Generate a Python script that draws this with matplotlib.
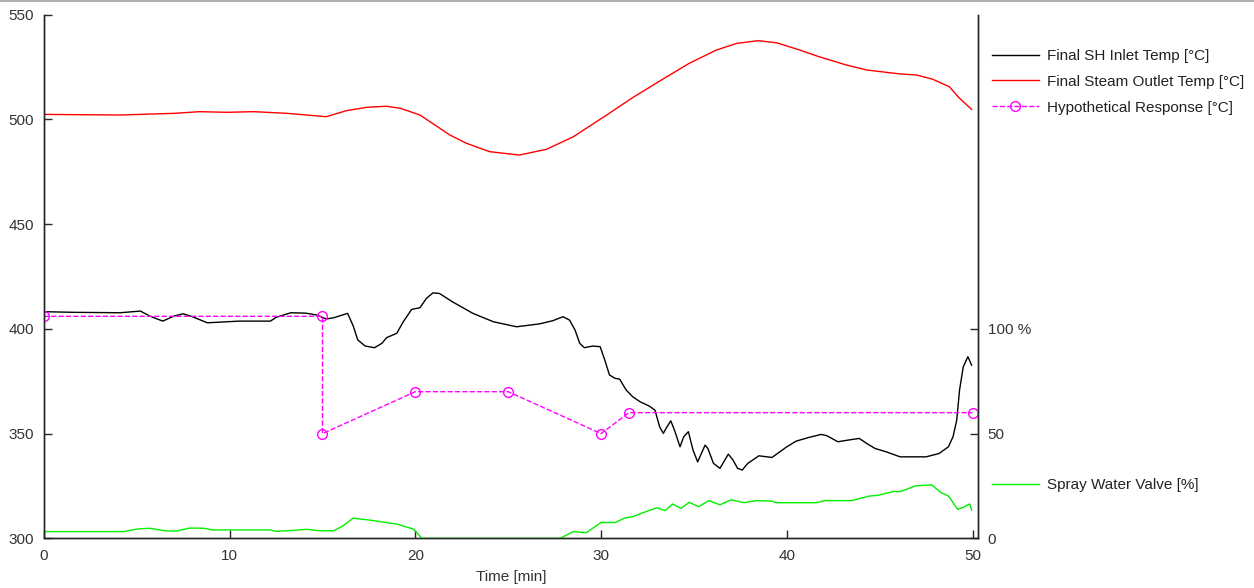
import matplotlib
matplotlib.use("Agg")
import matplotlib.pyplot as plt
from matplotlib.lines import Line2D

plt.rcParams['font.family'] = ['Liberation Sans', 'DejaVu Sans']
plt.rcParams['font.size'] = 11

# Final SH inlet temperature [degC]
inlet_time = [0.0, 1.6, 4.1, 5.2, 5.7, 6.4, 7.0, 7.5, 8.0, 8.8, 10.5, 12.2, 12.5, 13.3,
              14.1, 14.7, 15.2, 15.6, 16.35, 16.65, 16.9, 17.3, 17.8, 18.2, 18.45, 19.0,
              19.35, 19.8, 20.25, 20.6, 20.95, 21.3, 22.0, 23.1, 24.2, 25.45, 26.7, 27.4,
              27.95, 28.3, 28.6, 28.85, 29.1, 29.55, 29.95, 30.2, 30.45, 30.75, 31.0, 31.35,
              31.7, 32.1, 32.6, 32.9, 33.15, 33.35, 33.5, 33.75, 33.95, 34.25, 34.45, 34.7,
              34.95, 35.2, 35.6, 35.75, 36.05, 36.4, 36.85, 37.1, 37.35, 37.6, 37.9, 38.5,
              39.2, 40.0, 40.5, 41.2, 41.85, 42.15, 42.75, 43.3, 43.9, 44.3, 44.75, 45.35,
              46.1, 47.5, 48.2, 48.7, 48.95, 49.15, 49.3, 49.5, 49.75, 49.95]
inlet_temp = [408.2, 407.9, 407.7, 408.5, 406.1, 403.7, 406.1, 407.2, 405.8, 402.9, 403.7,
              403.7, 405.5, 407.7, 407.5, 406.6, 404.7, 405.3, 407.4, 401.5, 394.7, 391.8,
              391.0, 393.1, 395.8, 397.9, 403.4, 409.3, 410.1, 414.6, 417.2, 416.9, 412.9,
              407.4, 403.4, 401.0, 402.4, 403.9, 405.8, 404.2, 399.4, 393.1, 391.0, 391.8,
              391.5, 385.1, 378.0, 376.4, 376.0, 370.8, 367.6, 365.2, 363.1, 361.2, 353.3,
              350.1, 352.5, 356.1, 351.7, 343.7, 348.5, 350.9, 342.1, 336.5, 344.5, 342.9,
              335.8, 333.4, 340.2, 337.4, 333.4, 332.6, 335.8, 339.4, 338.6, 343.7, 346.4,
              348.2, 349.6, 349.0, 346.1, 346.9, 347.7, 345.3, 342.9, 341.3, 338.9, 338.9,
              340.5, 343.7, 348.5, 356.5, 370.8, 381.9, 386.7, 382.7]

# Final steam outlet temperature [degC]
outlet_time = [0.0, 4.1, 7.0, 8.4, 9.85, 11.3, 13.1, 15.2, 16.3, 17.4, 18.45, 19.2, 20.25,
               21.85, 22.75, 24.0, 25.6, 27.05, 28.5, 30.3, 31.7, 33.15, 34.75, 36.2, 37.3,
               38.45, 39.45, 40.7, 41.75, 43.2, 44.3, 46.1, 47.0, 47.85, 48.75, 49.3, 49.95]
outlet_temp = [502.4, 502.1, 502.9, 503.7, 503.4, 503.7, 502.9, 501.3, 504.2, 505.8, 506.3,
               505.3, 502.1, 492.6, 488.6, 484.6, 483.0, 485.7, 491.7, 502.1, 510.4, 518.3,
               526.8, 533.1, 536.3, 537.6, 536.6, 533.1, 529.9, 526.0, 523.6, 521.7, 521.2,
               519.2, 515.6, 510.1, 504.8]

# Hypothetical response [degC]
hypo_time = [0, 15, 15, 20, 25, 30, 31.5, 50]
hypo_temp = [406, 406, 350, 370, 370, 350, 360, 360]

# Spray water valve [%]
valve_time = [0.0, 4.3, 5.0, 5.7, 6.6, 7.15, 7.85, 8.6, 9.1, 12.2, 12.5, 13.4, 14.15, 14.85,
              15.6, 16.1, 16.65, 17.55, 18.45, 19.0, 19.9, 20.35, 24.9, 27.8, 28.5, 29.2,
              29.55, 30.0, 30.75, 31.3, 31.7, 32.25, 33.0, 33.45, 33.85, 34.3, 34.75, 35.25,
              35.8, 36.4, 37.0, 37.7, 38.35, 39.15, 39.45, 41.6, 42.05, 43.5, 44.45, 44.9,
              45.7, 46.15, 46.95, 47.8, 48.3, 48.7, 49.2, 49.5, 49.85, 49.95]
valve_pct = [3.2, 3.2, 4.4, 4.8, 3.5, 3.5, 4.9, 4.8, 4.0, 4.0, 3.3, 3.8, 4.3, 3.6, 3.6, 5.9,
             9.6, 8.7, 7.5, 6.8, 4.4, 0.0, 0.0, 0.0, 3.2, 2.7, 4.8, 7.6, 7.5, 9.8, 10.3,
             12.2, 14.6, 13.2, 16.4, 14.3, 17.2, 15.1, 18.0, 16.0, 18.4, 17.0, 18.0, 17.8,
             17.0, 17.0, 18.0, 18.0, 20.2, 20.5, 22.3, 22.4, 25.1, 25.5, 21.8, 20.2, 13.8,
             14.8, 16.4, 13.5]

temp_ticks = [300, 350, 400, 450, 500, 550]
pct_ticks = [0, 50, 100]
pct_tick_labels = ['0', '50', '100 %']
time_ticks = [0, 10, 20, 30, 40, 50]

TEXT = '#333333'
SPINE = '#262626'


def style_axis(ax):
    for side in ['left', 'right', 'bottom', 'top']:
        ax.spines[side].set_color(SPINE)
        ax.spines[side].set_linewidth(1.0)
    ax.spines['top'].set_visible(False)
    ax.tick_params(direction='in', length=6, width=1.0, color=SPINE,
                   labelcolor=TEXT, labelsize=11, pad=7)


def plot_superheater():
    fig = plt.figure(figsize=(12.54, 5.88), dpi=100)
    ax1 = fig.add_axes([0.035, 0.0845, 0.745, 0.8905])
    ax2 = ax1.twinx()

    l1, = ax1.plot(inlet_time, inlet_temp, color='black', lw=1.0,
                   label='Final SH Inlet Temp [°C]')
    l2, = ax1.plot(outlet_time, outlet_temp, color='#ff0000', lw=1.0,
                   label='Final Steam Outlet Temp [°C]')
    l3, = ax1.plot(hypo_time, hypo_temp, color='#ff00ff', lw=1.0, ls='--',
                   marker='o', markersize=7, markerfacecolor='none',
                   markeredgecolor='#ff00ff', markeredgewidth=1.0,
                   label='Hypothetical Response [°C]')
    l4, = ax2.plot(valve_time, valve_pct, color='#00f000', lw=1.0,
                   label='Spray Water Valve [%]')

    ax1.set_xlim(0, 50.3)
    ax1.set_ylim(300, 550)
    ax1.set_yticks(temp_ticks)
    ax1.set_xticks(time_ticks)
    ax1.set_xlabel('Time [min]', color=TEXT, labelpad=5)

    ax2.set_ylim(0, 250)
    ax2.set_yticks(pct_ticks)
    ax2.set_yticklabels(pct_tick_labels)

    style_axis(ax1)
    style_axis(ax2)
    ax1.tick_params(axis='x', pad=8)

    leg1 = fig.legend(handles=[l1, l2, l3], loc='upper left',
                      bbox_to_anchor=(992 / 1254, 1 - 49 / 588),
                      frameon=False, borderpad=0, borderaxespad=0,
                      handlelength=3.07, handletextpad=0.52, labelspacing=0.77,
                      fontsize=11)
    leg2 = fig.legend(handles=[l4], loc='upper left',
                      bbox_to_anchor=(992 / 1254, 1 - 478 / 588),
                      frameon=False, borderpad=0, borderaxespad=0,
                      handlelength=3.07, handletextpad=0.52, fontsize=11)
    for leg in (leg1, leg2):
        for t in leg.get_texts():
            t.set_color('#222222')

    # thin grey rule along the top edge of the picture
    fig.add_artist(Line2D([0, 1], [0.998, 0.998], transform=fig.transFigure,
                          color='#b0b0b0', lw=1.5))

    fig.savefig('out.png', dpi=100)


if __name__ == "__main__":
    plot_superheater()
